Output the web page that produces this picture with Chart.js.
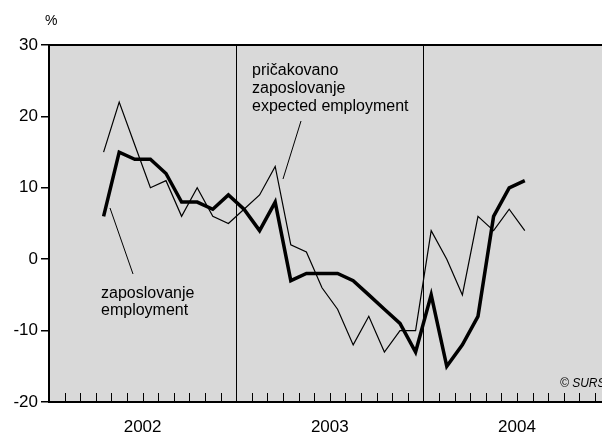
<!DOCTYPE html>
<html>
<head>
<meta charset="utf-8">
<script src="https://cdn.jsdelivr.net/npm/chart.js@4/dist/chart.umd.min.js"></script>
<style>
  html, body { margin: 0; padding: 0; background: #fff; }
  #wrap { width: 602px; height: 434px; position: relative; }
</style>
</head>
<body>
<div id="wrap"><canvas id="chart"></canvas></div>
<script>
// months counted from Jan 2002 (0); points sit mid-month
const firstMonth = 3; // April 2002
const years = ['2002', '2003', '2004'];
const yTicks = [-20, -10, 0, 10, 20, 30];

// zaposlovanje / employment (thick)
const employment = [6, 15, 14, 14, 12, 8, 8, 7, 9, 7, 4, 8, -3, -2, -2, -2, -3, -5, -7, -9, -13, -5, -15, -12, -8, 6, 10, 11];
// pričakovano zaposlovanje / expected employment (thin)
const expected = [15, 22, 16, 10, 11, 6, 10, 6, 5, 7, 9, 13, 2, 1, -4, -7, -12, -8, -13, -10, -10, 4, 0, -5, 6, 4, 7, 4];

const toPoints = arr => arr.map((v, i) => ({ x: firstMonth + i + 0.5, y: v }));

const FONT = '"Liberation Sans", Arial, Helvetica, sans-serif';

// background, frame, month ticks, year separators and labels
const decor = {
  id: 'decor',
  beforeDraw(chart) {
    const { ctx, chartArea: a } = chart;
    ctx.save();
    ctx.fillStyle = '#d9d9d9';
    ctx.fillRect(a.left, a.top, a.right - a.left, a.bottom - a.top);
    ctx.restore();
  },
  afterDatasetsDraw(chart) {
    const { ctx, chartArea: a, scales: { x } } = chart;
    ctx.save();
    // top frame
    ctx.strokeStyle = '#000';
    ctx.lineWidth = 2;
    ctx.beginPath();
    ctx.moveTo(a.left, a.top);
    ctx.lineTo(a.right, a.top);
    ctx.stroke();
    // month ticks pointing up
    ctx.lineWidth = 1;
    for (let m = 1; m < 36; m++) {
      const px = Math.round(x.getPixelForValue(m)) + 0.5;
      if (px > a.right) break;
      ctx.beginPath();
      ctx.moveTo(px, a.bottom);
      ctx.lineTo(px, a.bottom - 9);
      ctx.stroke();
    }
    // year separators
    [12, 24].forEach(m => {
      const px = Math.round(x.getPixelForValue(m)) + 0.5;
      ctx.beginPath();
      ctx.moveTo(px, a.top);
      ctx.lineTo(px, a.bottom);
      ctx.stroke();
    });
    // year labels
    ctx.fillStyle = '#000';
    ctx.font = '17px ' + FONT;
    ctx.textAlign = 'center';
    ctx.textBaseline = 'alphabetic';
    years.forEach((y, i) => {
      ctx.fillText(y, x.getPixelForValue(i * 12 + 6), 432);
    });
    // unit
    ctx.textAlign = 'left';
    ctx.font = '14px ' + FONT;
    ctx.fillText('%', 45, 25);
    // annotations
    ctx.font = '16px ' + FONT;
    ctx.fillText('pričakovano', 252, 75);
    ctx.fillText('zaposlovanje', 252, 93);
    ctx.fillText('expected employment', 252, 111);
    ctx.fillText('zaposlovanje', 101, 298);
    ctx.fillText('employment', 101, 315);
    ctx.lineWidth = 1;
    ctx.beginPath();
    ctx.moveTo(301, 121);
    ctx.lineTo(283, 179);
    ctx.moveTo(110, 208);
    ctx.lineTo(133, 274);
    ctx.stroke();
    // copyright
    ctx.font = 'italic 12px ' + FONT;
    ctx.fillText('© SURS', 560, 387);
    ctx.restore();
  }
};

new Chart(document.getElementById('chart'), {
  type: 'line',
  data: {
    datasets: [
      { label: 'zaposlovanje', data: toPoints(employment), borderColor: '#000', borderWidth: 3.5, pointRadius: 0, tension: 0, order: 0, borderJoinStyle: 'miter' },
      { label: 'pričakovano zaposlovanje', data: toPoints(expected), borderColor: '#000', borderWidth: 1.2, pointRadius: 0, tension: 0, order: 1 }
    ]
  },
  options: {
    responsive: true, maintainAspectRatio: false, animation: false,
    layout: { padding: { top: 45, right: 0, left: 0, bottom: 0 } },
    plugins: { legend: { display: false }, tooltip: { enabled: false } },
    scales: {
      x: {
        type: 'linear', min: 0, max: 35.45,
        ticks: { display: false },
        grid: { display: false },
        border: { display: true, color: '#000', width: 2 },
        afterFit: s => { s.height = 32; }
      },
      y: {
        min: -20, max: 30,
        afterBuildTicks: s => { s.ticks = yTicks.map(v => ({ value: v })); },
        ticks: { color: '#000', font: { size: 17, family: FONT }, padding: 3 },
        grid: { drawOnChartArea: false, drawTicks: true, tickLength: 8, color: '#000', lineWidth: 1.5 },
        border: { display: true, color: '#000', width: 2 },
        afterFit: s => { s.width = 49; }
      }
    }
  },
  plugins: [decor]
});
</script>
</body>
</html>
